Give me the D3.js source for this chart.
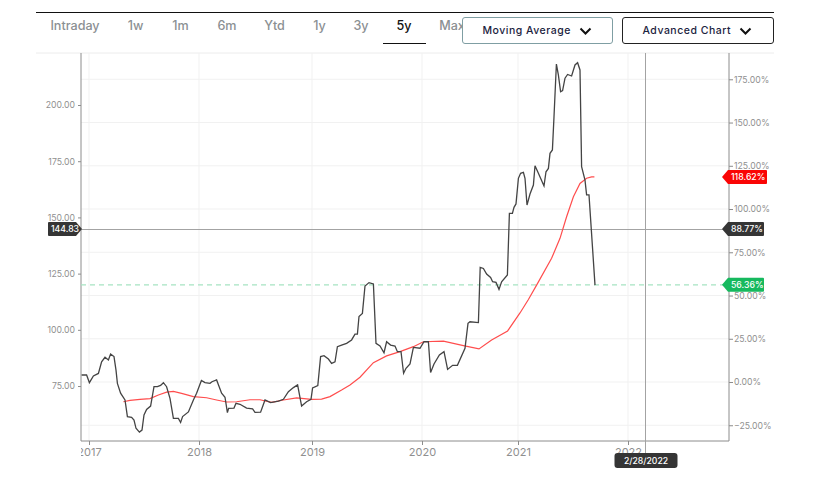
<!DOCTYPE html>
<html>
<head>
<meta charset="utf-8">
<script src="https://cdnjs.cloudflare.com/ajax/libs/d3/7.8.5/d3.min.js"></script>
<style>
  body { margin: 0; background: #fff; }
  svg { display: block; }
  text { font-family: Inter, "Open Sans", sans-serif; }
  .axis path { display: none; }
  .axis line { stroke: #8c8c8c; }
  .axis text { fill: #8f8f8f; font-size: 8.7px; }
  .xaxis text { font-size: 11px; }
</style>
</head>
<body>
<svg id="chart" width="819" height="481"></svg>
<script>
const tabs = ["Intraday", "1w", "1m", "6m", "Ytd", "1y", "3y", "5y", "Max"];
const tabCenters = [75, 135.5, 180.5, 227, 274.5, 319.5, 361, 404, 452];
const activeTab = "5y";
const buttons = ["Moving Average", "Advanced Chart"];

// x is a session index, the real chart spaces sessions unevenly between years
const yearLabels = [2017, 2018, 2019, 2020, 2021, 2022];
const yearSessions = [0, 55, 111.5, 166.5, 214.5, 269.5];

const priceTicks = [75, 100, 125, 150, 175, 200];
const percentTicks = [-25, 0, 25, 50, 75, 100, 125, 150, 175];

const priceSessions = [-3.7, -1.2, 0.2, 2.2, 4.7, 6.3, 8, 9.7, 10.8, 12.5, 13.5, 14.2, 15.8, 18, 19.2, 21.3, 22.5, 23.5, 25.2, 26.5, 27.5, 28.8, 30.8, 32.5, 34.2, 35.8, 37.2, 38.8, 40.5, 42.2, 44.7, 45.8, 46.8, 49.7, 52.2, 53.8, 56.2, 58, 60.5, 61.5, 63.8, 66.3, 68, 69.2, 69.8, 72.5, 73.5, 75.5, 78.8, 81.8, 83, 85.8, 88, 90.8, 94.7, 97.2, 99.7, 102.2, 104.3, 106.3, 108.8, 111, 111.8, 114.4, 115.8, 117.5, 119.7, 121.3, 123, 124.2, 126.3, 128.8, 131.3, 133, 134.2, 135, 136.7, 138, 140, 142.2, 143.5, 145.5, 147.5, 148.8, 150.8, 153, 154.2, 156, 157.3, 158.5, 160.5, 162.2, 165.5, 167.5, 169.7, 170.8, 172.5, 175.2, 177.5, 179.3, 181.8, 184.2, 188, 189.5, 190.5, 194.7, 195.6, 197.2, 198.8, 200.8, 201.8, 203.5, 205, 206.3, 209.2, 210.2, 211.7, 212.5, 213.5, 214.7, 215.8, 217.2, 218, 219, 220.5, 222.2, 223, 224.7, 225.8, 227.5, 228.5, 229.7, 230.5, 231.7, 232.5, 233.7, 234.7, 235.8, 236.8, 238, 239.3, 241.3, 243, 244.3, 245.5, 246.3, 248, 248.8, 250, 253];
const priceValues = [79.9, 79.9, 76.5, 79.5, 80.6, 85.8, 87.8, 86.6, 89.2, 88.1, 82.1, 76.2, 71.8, 68.8, 61.4, 61.1, 59.9, 56.2, 54.5, 55.4, 62.1, 64.6, 66.1, 74.7, 74.7, 75.3, 76.5, 74.7, 69.5, 60.6, 60.6, 58.8, 61.4, 63.5, 68.8, 71.8, 77.5, 76.5, 76.2, 76.9, 77.7, 71.8, 70, 63.2, 65.1, 65.2, 67.3, 66.9, 65.2, 64.8, 63.3, 63.4, 68.8, 67.6, 68.3, 69.1, 72.5, 74.3, 75.5, 66.1, 68, 69.1, 74.2, 75.2, 88.1, 88.5, 87, 85.1, 85.8, 92.5, 93.2, 94, 95.5, 98.1, 98.1, 105.9, 107.3, 119.5, 121, 120.4, 94, 92.8, 89.8, 94.7, 93.2, 92.8, 90.3, 90.3, 80.7, 82.9, 84.8, 92.2, 91.8, 94.7, 94.7, 81, 84.8, 88.8, 90.3, 82.4, 84.2, 84.2, 91.8, 102.9, 103.6, 103.2, 127.8, 127.3, 124.8, 123.3, 121.4, 121.1, 118, 121.4, 124.4, 151.8, 151.8, 154.5, 156, 167.4, 169.6, 170, 167.4, 155.5, 160.4, 164.4, 173, 169.6, 167.4, 164, 170.3, 171.8, 178.5, 180, 194.8, 218.2, 213.3, 205.9, 206.4, 211.9, 213.6, 212.9, 217.8, 218.8, 215.6, 172.6, 166.6, 160, 160, 119.9];

const maSessions = [17.2, 20.5, 25.5, 30.5, 34.7, 38.8, 42.2, 46.3, 52.2, 58.8, 63.8, 68.8, 73.8, 80.5, 85.5, 91.3, 97.2, 103.8, 111.3, 116.3, 120.5, 126.3, 130.5, 135.5, 142.2, 148.8, 155.5, 162.2, 167.2, 177.2, 187.2, 195, 201.3, 209.3, 215.5, 219.7, 223.8, 231.3, 235.5, 238.8, 242.2, 245.5, 248.8, 251.3, 252.7];
const maValues = [68, 68.6, 69.1, 69.4, 71, 72.3, 72.6, 71.7, 70.3, 69.8, 68.8, 67.9, 68, 68.9, 68.9, 67.7, 68.8, 69.7, 69.1, 69.2, 70.3, 73.2, 75.5, 78.9, 85.4, 88.4, 90.3, 92.5, 94.7, 95, 93, 91.5, 95.5, 99.5, 107.5, 113.5, 119.9, 131.8, 140.7, 150.3, 159.2, 165.1, 167.4, 168, 168];

const crossPrice = 144.83;
const crossPercent = "88.77%";
const crossSession = 278;
const crossDate = "2/28/2022";
const lastPrice = 120;
const lastPercent = "56.36%";
const maPercent = "118.62%";

const plot = { left: 81, right: 729, top: 53, bottom: 441 };

const svg = d3.select("#chart");
const x = d3.scaleLinear().domain([-4, 320]).range([plot.left, plot.right]);
const yPrice = d3.scaleLinear().domain([50.55, 223.13]).range([plot.bottom, plot.top]);
const yPercent = d3.scaleLinear().domain([-34.1, 190.2]).range([plot.bottom, plot.top]);

svg.append("defs").append("clipPath").attr("id", "xclip")
  .append("rect").attr("x", plot.left).attr("y", plot.bottom).attr("width", plot.right - plot.left).attr("height", 30);

// header rules
svg.append("line").attr("x1", 36).attr("x2", 774).attr("y1", 12.5).attr("y2", 12.5).attr("stroke", "#111").attr("stroke-width", 1);
svg.append("line").attr("x1", 36).attr("x2", 774).attr("y1", 53).attr("y2", 53).attr("stroke", "#ececec");

// range tabs
svg.selectAll(".tab").data(tabs).join("text")
  .attr("class", "tab")
  .attr("x", (d, i) => tabCenters[i])
  .attr("y", 29.5)
  .attr("text-anchor", "middle")
  .attr("font-size", 12.6)
  .attr("font-weight", 500)
  .attr("fill", d => d === activeTab ? "#111" : "#8b9093")
  .text(d => d);
svg.append("line").attr("x1", 383).attr("x2", 426).attr("y1", 43.5).attr("y2", 43.5).attr("stroke", "#111");

// dropdown buttons
const buttonBox = [
  { x: 462.5, w: 150, stroke: "#7f9ea3" },
  { x: 622.5, w: 151, stroke: "#222" },
];
buttons.forEach((label, i) => {
  const b = buttonBox[i];
  const g = svg.append("g").attr("transform", `translate(${b.x},17.5)`);
  g.append("rect").attr("width", b.w).attr("height", 26).attr("rx", 2.5).attr("fill", "#fff").attr("stroke", b.stroke);
  g.append("text").attr("x", 20).attr("y", 16.5).attr("font-size", 10.5).attr("font-weight", 500)
    .attr("letter-spacing", 0.5).attr("fill", "#1c2340").text(label);
  g.append("path").attr("d", "M118,11 l5,5 l5,-5")
    .attr("fill", "none").attr("stroke", "#111").attr("stroke-width", 2);
});

// gridlines follow the percent axis and the year ticks
svg.append("g").selectAll("line").data(percentTicks).join("line")
  .attr("x1", plot.left).attr("x2", plot.right)
  .attr("y1", d => yPercent(d)).attr("y2", d => yPercent(d))
  .attr("stroke", "#f1f1f1");
svg.append("g").selectAll("line").data(yearSessions).join("line")
  .attr("x1", d => x(d)).attr("x2", d => x(d))
  .attr("y1", plot.top).attr("y2", plot.bottom)
  .attr("stroke", "#f1f1f1");

// axes
svg.append("g").attr("class", "axis")
  .attr("transform", `translate(${plot.left},0)`)
  .call(d3.axisLeft(yPrice).tickValues(priceTicks).tickSize(3).tickPadding(3).tickFormat(d3.format(".2f")));
svg.append("g").attr("class", "axis")
  .attr("transform", `translate(${plot.right},0)`)
  .call(d3.axisRight(yPercent).tickValues(percentTicks).tickSize(4).tickPadding(1).tickFormat(d => d3.format(".2f")(d) + "%"));
// the 2017 label is cut by the plot edge in the source, so clip the outer group
svg.append("g").attr("clip-path", "url(#xclip)")
  .append("g").attr("class", "axis xaxis")
  .attr("transform", `translate(0,${plot.bottom})`)
  .call(d3.axisBottom(x).tickValues(yearSessions).tickSize(4).tickPadding(3).tickFormat((d, i) => yearLabels[i]));

// frame
svg.append("path")
  .attr("d", `M${plot.left},${plot.top}V${plot.bottom}H${plot.right}V${plot.top}`)
  .attr("fill", "none").attr("stroke", "#8c8c8c");

// last price dashed line
svg.append("line")
  .attr("x1", plot.left).attr("x2", plot.right - 5)
  .attr("y1", yPrice(lastPrice)).attr("y2", yPrice(lastPrice))
  .attr("stroke", "#a6e3c2").attr("stroke-width", 1.2).attr("stroke-dasharray", "5,4");

// crosshair
svg.append("line")
  .attr("x1", plot.left).attr("x2", plot.right)
  .attr("y1", Math.round(yPrice(crossPrice)) + 0.5).attr("y2", Math.round(yPrice(crossPrice)) + 0.5)
  .attr("stroke", "#a3a3a3");
svg.append("line")
  .attr("x1", Math.round(x(crossSession)) + 0.5).attr("x2", Math.round(x(crossSession)) + 0.5)
  .attr("y1", plot.top).attr("y2", 455)
  .attr("stroke", "#a3a3a3");

// series
const line = d3.line().x(d => x(d[0])).y(d => yPrice(d[1]));
svg.append("path")
  .datum(d3.zip(maSessions, maValues))
  .attr("d", line).attr("fill", "none").attr("stroke", "#ff4d4d").attr("stroke-width", 1.2);
svg.append("path")
  .datum(d3.zip(priceSessions, priceValues))
  .attr("d", line).attr("fill", "none").attr("stroke", "#444").attr("stroke-width", 1.3);

// value badges on the right axis
function rightBadge(cy, w, fill, label) {
  const g = svg.append("g").attr("transform", `translate(722,${cy})`);
  g.append("path").attr("d", `M0,0 L6,-7 H${w - 1} a1,1 0 0 1 1,1 V6 a1,1 0 0 1 -1,1 H6 Z`).attr("fill", fill);
  g.append("text").attr("x", 9).attr("y", 3.2).attr("font-size", 8.7).attr("font-weight", 500).attr("fill", "#fff").text(label);
}
rightBadge(177, 45, "#fa0505", maPercent);
rightBadge(yPrice(crossPrice), 42, "#353535", crossPercent);
rightBadge(yPrice(lastPrice), 42, "#16b95e", lastPercent);

// left crosshair badge
const leftBadge = svg.append("g").attr("transform", `translate(48,${yPrice(crossPrice)})`);
leftBadge.append("path").attr("d", "M1,-7 H28 L34,0 L28,7 H1 a1,1 0 0 1 -1,-1 V-6 a1,1 0 0 1 1,-1 Z").attr("fill", "#353535");
leftBadge.append("text").attr("x", 3).attr("y", 3.2).attr("font-size", 8.7).attr("font-weight", 500).attr("fill", "#fff").text(crossPrice.toFixed(2));

// date badge
const dateBadge = svg.append("g").attr("transform", `translate(${x(crossSession)},460.5)`);
dateBadge.append("rect").attr("x", -30.5).attr("y", -7.5).attr("width", 63).attr("height", 15).attr("rx", 3).attr("fill", "#353535");
dateBadge.append("text").attr("x", 1).attr("y", 3.2).attr("text-anchor", "middle").attr("font-size", 8.7).attr("font-weight", 500).attr("fill", "#fff").text(crossDate);
</script>
</body>
</html>
